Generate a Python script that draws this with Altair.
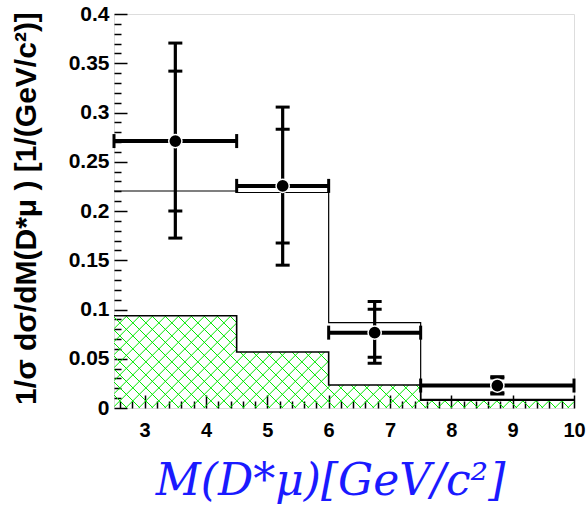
import altair as alt
import pandas as pd

# ---------------- data ----------------
bin_edges = [2.5, 4.5, 6.0, 7.5, 10.0]
# data points
pt_x = [3.5, 5.25, 6.75, 8.75]
pt_y = [0.271, 0.2255, 0.0765, 0.0228]
pt_xlo = [2.5, 4.5, 6.0, 7.5]
pt_xhi = [4.5, 6.0, 7.5, 10.0]
pt_tot_lo = [0.1725, 0.145, 0.0455, 0.0142]
pt_tot_hi = [0.3705, 0.3055, 0.108, 0.0318]
pt_stat_lo = [0.200, 0.1675, 0.0515, 0.0155]
pt_stat_hi = [0.342, 0.283, 0.1002, 0.0305]
# MC histogram (open line)
mc_vals = [0.2203, 0.2188, 0.0866, 0.0088]
# background histogram (green hatched)
bkg_vals = [0.0937, 0.0569, 0.0234, 0.0080]

x_major = [3, 4, 5, 6, 7, 8, 9, 10]
x_minor = [round(2.6 + 0.2 * i, 1) for i in range(37) if abs((2.6 + 0.2 * i) - round(2.6 + 0.2 * i)) > 1e-6]
y_major = [0, 0.05, 0.1, 0.15, 0.2, 0.25, 0.3, 0.35, 0.4]
y_minor = [round(0.01 * i, 2) for i in range(41) if i % 5 != 0]

XMIN, XMAX, YMIN, YMAX = 2.5, 10.0, 0.0, 0.4
W, H = 460, 394

# ---------------- tables ----------------
pts = pd.DataFrame(dict(x=pt_x, y=pt_y, xlo=pt_xlo, xhi=pt_xhi,
                        tlo=pt_tot_lo, thi=pt_tot_hi, slo=pt_stat_lo, shi=pt_stat_hi))
mc = pd.DataFrame(dict(x=bin_edges, y=mc_vals + [mc_vals[-1]]))
bkg = pd.DataFrame(dict(x=bin_edges, y=bkg_vals + [bkg_vals[-1]]))

# hatch segments (style only) clipped to each background bin
SX = W / (XMAX - XMIN)
SY = H / (YMAX - YMIN)
SP = 13.0
hmax = max(bkg_vals) * SY
segs = []
for i, h in enumerate(bkg_vals):
    X0 = (bin_edges[i] - XMIN) * SX
    X1 = (bin_edges[i + 1] - XMIN) * SX
    Hp = h * SY
    c = 0.0
    while c <= W + hmax + SP:
        lo, hi = max(X0, c - Hp), min(X1, c)
        if hi > lo:
            segs.append((lo, c - lo, hi, c - hi))
        c += SP
    c = -hmax - SP * 2
    while c <= W + SP:
        lo, hi = max(X0, c), min(X1, c + Hp)
        if hi > lo:
            segs.append((lo, lo - c, hi, hi - c))
        c += SP
hatch = pd.DataFrame([dict(x=XMIN + a / SX, y=b / SY, x2=XMIN + cc / SX, y2=d / SY)
                      for a, b, cc, d in segs])

xs = alt.Scale(domain=[XMIN, XMAX], nice=False, zero=False)
ys = alt.Scale(domain=[YMIN, YMAX], nice=False, zero=True)

LBL = "Liberation Sans"

x_label_axis = alt.Axis(
    orient="bottom", values=x_major, format="d", ticks=False, tickSize=0, domain=False, grid=False,
    labelFont=LBL, labelFontWeight="bold", labelFontSize=20, labelColor="black",
    labelPadding=12, labelFlush=False, labelOverlap=False,
    title="M(D*μ)[GeV/c²]", titleFont="DejaVu Serif", titleFontStyle="italic",
    titleFontWeight="normal", titleFontSize=44, titleColor="#1a1aff",
    titleX=216, titleY=86, titleAlign="center", titleBaseline="alphabetic")
y_label_axis = alt.Axis(
    orient="left", values=y_major, format="~g", ticks=False, tickSize=0, domain=False, grid=False,
    labelFont=LBL, labelFontWeight="bold", labelFontSize=21, labelColor="black",
    labelPadding=5, labelFlush=False, labelOverlap=False,
    title="1/σ dσ/dM(D*μ ) [1/(GeV/c²)]", titleFont=LBL, titleFontWeight="bold",
    titleFontSize=30, titleColor="black", titleAngle=270,
    titleX=-88, titleY=194, titleAlign="center", titleBaseline="middle")


def tick_axis(orient, vals, size):
    return alt.Axis(orient=orient, values=vals, labels=False, domain=False, grid=False,
                    ticks=True, tickSize=size, tickColor="black", tickWidth=1.5,
                    offset=-size, title=None)


hatch_layer = alt.Chart(hatch).mark_rule(color="#00e800", strokeWidth=1, clip=True).encode(
    x=alt.X("x:Q", scale=xs, axis=x_label_axis),
    y=alt.Y("y:Q", scale=ys, axis=y_label_axis),
    x2="x2:Q", y2="y2:Q")

bkg_layer = alt.Chart(bkg).mark_line(color="black", strokeWidth=1.6, interpolate="step-after").encode(
    x=alt.X("x:Q", scale=xs, axis=tick_axis("bottom", x_major, 13)),
    y=alt.Y("y:Q", scale=ys, axis=tick_axis("left", y_major, 13)))

mc_layer = alt.Chart(mc).mark_line(color="black", strokeWidth=1.2, interpolate="step-after").encode(
    x=alt.X("x:Q", scale=xs, axis=tick_axis("bottom", x_minor, 7)),
    y=alt.Y("y:Q", scale=ys, axis=tick_axis("left", y_minor, 7)))

base = alt.Chart(pts)
verr = base.mark_rule(color="black", strokeWidth=3.2).encode(
    x=alt.X("x:Q", scale=xs, axis=None), y=alt.Y("tlo:Q", scale=ys, axis=None), y2="thi:Q")
herr = base.mark_rule(color="black", strokeWidth=4).encode(
    x=alt.X("xlo:Q", scale=xs, axis=None), x2="xhi:Q", y=alt.Y("y:Q", scale=ys, axis=None))

caps = []
for col in ["tlo", "thi", "slo", "shi"]:
    caps.append(base.mark_tick(orient="horizontal", size=14, thickness=3, color="black", opacity=1).encode(
        x=alt.X("x:Q", scale=xs, axis=None), y=alt.Y(f"{col}:Q", scale=ys, axis=None)))
for col in ["xlo", "xhi"]:
    caps.append(base.mark_tick(orient="vertical", size=14, thickness=3, color="black", opacity=1).encode(
        x=alt.X(f"{col}:Q", scale=xs, axis=None), y=alt.Y("y:Q", scale=ys, axis=None)))

dots = base.mark_circle(size=175, color="black", opacity=1, stroke="white", strokeWidth=1.5).encode(
    x=alt.X("x:Q", scale=xs, axis=None), y=alt.Y("y:Q", scale=ys, axis=None))

chart = alt.layer(hatch_layer, bkg_layer, mc_layer, verr, herr, *caps, dots).resolve_axis(
    x="independent", y="independent"
).properties(
    width=W, height=H,
    autosize=alt.AutoSizeParams(type="none"),
    padding={"left": 114, "top": 14, "right": 13, "bottom": 103},
).configure_view(stroke="black", strokeWidth=2).configure(background="white")

chart.save("out.html", embed_options={"renderer": "svg", "actions": False})
